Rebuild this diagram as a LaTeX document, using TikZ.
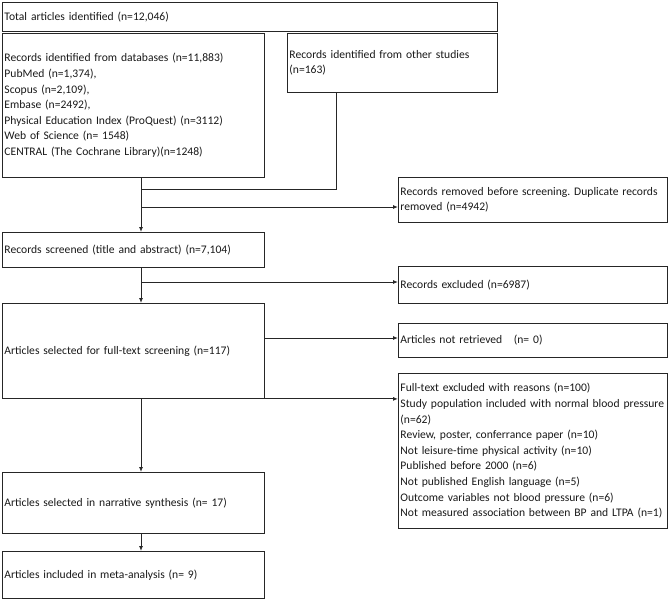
\documentclass[tikz,border=0pt]{standalone}
\usepackage{fontspec}
\setmainfont{Carlito}
\usetikzlibrary{arrows.meta,calc}
\frenchspacing
\newcommand\myboxfont{\fontsize{11.6}{15.6}\selectfont\hyphenpenalty=10000\relax\exhyphenpenalty=10000\relax}
\begin{document}
\begin{tikzpicture}[x=1pt,y=-1pt,
  box/.style={draw=black!85, line width=0.9pt, rectangle, anchor=north west,
    inner xsep=2pt, inner ysep=0pt, align=left,
    font=\myboxfont, text=black!90},
  conn/.style={draw=black!85, line width=0.9pt},
  arr/.style={conn, -{Latex[length=5pt,width=4pt]}}]
\useasboundingbox (0,0) rectangle (669,600);
% boxes
\node[box, minimum width=495pt, minimum height=29pt, text width=491pt] (total) at (2,2)
  {Total articles identified (n=12,046)};
\node[box, minimum width=262pt, minimum height=144pt, text width=258pt] (db) at (2,33)
  {Records identified from databases (n=11,883)\\
   PubMed (n=1,374),\\
   Scopus (n=2,109),\\
   Embase (n=2492),\\
   Physical Education Index (ProQuest) (n=3112)\\
   Web of Science (n= 1548)\\
   CENTRAL (The Cochrane Library)(n=1248)};
\node[box, minimum width=210pt, minimum height=59pt, text width=206pt] (other) at (287,33)
  {Records identified from other studies\\(n=163)};
\node[box, minimum width=269pt, minimum height=45pt, text width=265pt] (removed) at (398,177)
  {Records removed before screening. Duplicate records\\removed (n=4942)};
\node[box, minimum width=262pt, minimum height=35pt, text width=258pt] (screened) at (2,232)
  {Records screened (title and abstract) (n=7,104)};
\node[box, minimum width=269pt, minimum height=37pt, text width=265pt] (excluded) at (398,266)
  {Records excluded (n=6987)};
\node[box, minimum width=262pt, minimum height=95pt, text width=258pt] (fulltext) at (2,303)
  {Articles selected for full-text screening (n=117)};
\node[box, minimum width=269pt, minimum height=34pt, text width=265pt] (notret) at (398,323)
  {Articles not retrieved\ \ \ (n= 0)};
\node[box, minimum width=269pt, minimum height=155pt, text width=265pt] (ftex) at (398,373)
  {Full-text excluded with reasons (n=100)\\
   Study population included with normal blood pressure\\
   (n=62)\\
   Review, poster, conferrance paper (n=10)\\
   Not leisure-time physical activity (n=10)\\
   Published before 2000 (n=6)\\
   Not published English language (n=5)\\
   Outcome variables not blood pressure (n=6)\\
   Not measured association between BP and LTPA (n=1)};
\node[box, minimum width=262pt, minimum height=61pt, text width=258pt] (narr) at (2,472)
  {Articles selected in narrative synthesis (n= 17)};
\node[box, minimum width=262pt, minimum height=47pt, text width=258pt] (meta) at (2,551)
  {Articles included in meta-analysis (n= 9)};
% helper coordinates
\coordinate (spine) at (141,0);
\coordinate (oj) at (336,189);
\coordinate (j1) at (141,207);
\coordinate (j2) at (141,282);
\coordinate (j3) at (264,338);
% connectors
\draw[conn] (oj |- other.south) -- (oj) -- (spine |- oj);
\draw[arr] (spine |- db.south) -- (spine |- screened.north);
\draw[arr] (j1) -- (j1 -| removed.west);
\draw[arr] (spine |- screened.south) -- (spine |- fulltext.north);
\draw[arr] (j2) -- (j2 -| excluded.west);
\draw[arr] (j3 -| fulltext.east) -- (j3 -| notret.west);
\draw[arr] (fulltext.south east) -- (fulltext.south east -| ftex.west);
\draw[arr] (spine |- fulltext.south) -- (spine |- narr.north);
\draw[arr] (spine |- narr.south) -- (spine |- meta.north);
\end{tikzpicture}
\end{document}
